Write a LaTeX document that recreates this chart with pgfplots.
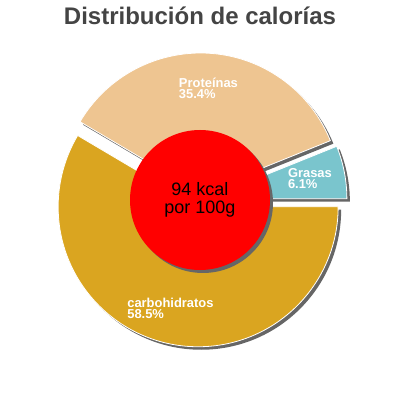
\documentclass[border=0pt]{standalone}
\usepackage{pgfplots}
\usepackage{pgfplotstable}
\pgfplotsset{compat=1.18}
\usepackage{fontspec}
\setmainfont{Liberation Sans}

\definecolor{titlegray}{RGB}{68,68,68}
\definecolor{shadowgray}{RGB}{102,102,102}
\definecolor{slice0}{RGB}{218,165,32}   % carbohidratos
\definecolor{slice1}{RGB}{238,197,145}  % proteinas
\definecolor{slice2}{RGB}{122,197,205}  % grasas

% share of calories, clockwise from 3 o'clock
\pgfplotstableread{
name value
carbohidratos 58.5
Proteínas 35.4
Grasas 6.1
}\caltable

\begin{document}
\begin{tikzpicture}
% one axis unit = one pixel = 0.75pt
\pgfmathsetmacro\cx{200}
\pgfmathsetmacro\cy{200}
\gdef\angstart{0}
\foreach \i in {0,1,2}{
  \pgfplotstablegetelem{\i}{value}\of\caltable
  \expandafter\xdef\csname pc\i\endcsname{\pgfplotsretval}
  \pgfmathsetmacro\val{\pgfplotsretval}
  \pgfplotstablegetelem{\i}{name}\of\caltable
  \expandafter\xdef\csname nm\i\endcsname{\pgfplotsretval}
  \pgfmathsetmacro\aend{\angstart-3.6*\val}
  \pgfmathsetmacro\amid{(\angstart+\aend)/2}
  \pgfmathsetmacro\ox{\cx+7*cos(\amid)}
  \pgfmathsetmacro\oy{\cy+7*sin(\amid)}
  \pgfmathsetmacro\lx{\ox+105*cos(\amid)}
  \pgfmathsetmacro\ly{\oy+105*sin(\amid)}
  \expandafter\xdef\csname as\i\endcsname{\angstart}
  \expandafter\xdef\csname ae\i\endcsname{\aend}
  \expandafter\xdef\csname ox\i\endcsname{\ox}
  \expandafter\xdef\csname oy\i\endcsname{\oy}
  \expandafter\xdef\csname lx\i\endcsname{\lx}
  \expandafter\xdef\csname ly\i\endcsname{\ly}
  \xdef\angstart{\aend}
}
\begin{axis}[
  scale only axis,
  width=300pt, height=300pt,
  xmin=0, xmax=400, ymin=0, ymax=400,
  hide axis,
  clip=false,
]
\path (axis cs:0,0) (axis cs:400,400);
% shadows
\pgfplotsinvokeforeach{0,1,2}{
  \fill[shadowgray, shift={(2.25pt,-2.25pt)}]
    (axis cs:\csname ox#1\endcsname,\csname oy#1\endcsname)
    -- ++(\csname as#1\endcsname:105pt)
    arc[start angle=\csname as#1\endcsname, end angle=\csname ae#1\endcsname, radius=105pt]
    -- cycle;
}
% slices
\pgfplotsinvokeforeach{0,1,2}{
  \filldraw[fill=slice#1, draw=white, line width=0.6pt]
    (axis cs:\csname ox#1\endcsname,\csname oy#1\endcsname)
    -- ++(\csname as#1\endcsname:105pt)
    arc[start angle=\csname as#1\endcsname, end angle=\csname ae#1\endcsname, radius=105pt]
    -- cycle;
  \node[text=white, font=\fontsize{9.7}{8.4}\selectfont\bfseries, align=left, inner sep=0pt]
    at (axis cs:\csname lx#1\endcsname,\csname ly#1\endcsname)
    {\csname nm#1\endcsname\\\csname pc#1\endcsname\%};
}
% centre disc
\fill[shadowgray] ([shift={(2.25pt,-2.25pt)}]axis cs:200,200) circle[radius=52.5pt];
\fill[red] (axis cs:200,200) circle[radius=52.5pt];
\node[anchor=base, font=\fontsize{13.5}{16}\selectfont, inner sep=0pt] at (axis cs:200,204) {94 kcal};
\node[anchor=base, font=\fontsize{13.5}{16}\selectfont, inner sep=0pt] at (axis cs:200,186) {por 100g};
% title
\node[anchor=base, text=titlegray, font=\fontsize{18}{20}\selectfont\bfseries, inner sep=0pt]
  at (axis cs:200,375) {Distribución de calorías};
\end{axis}
\end{tikzpicture}
\end{document}
